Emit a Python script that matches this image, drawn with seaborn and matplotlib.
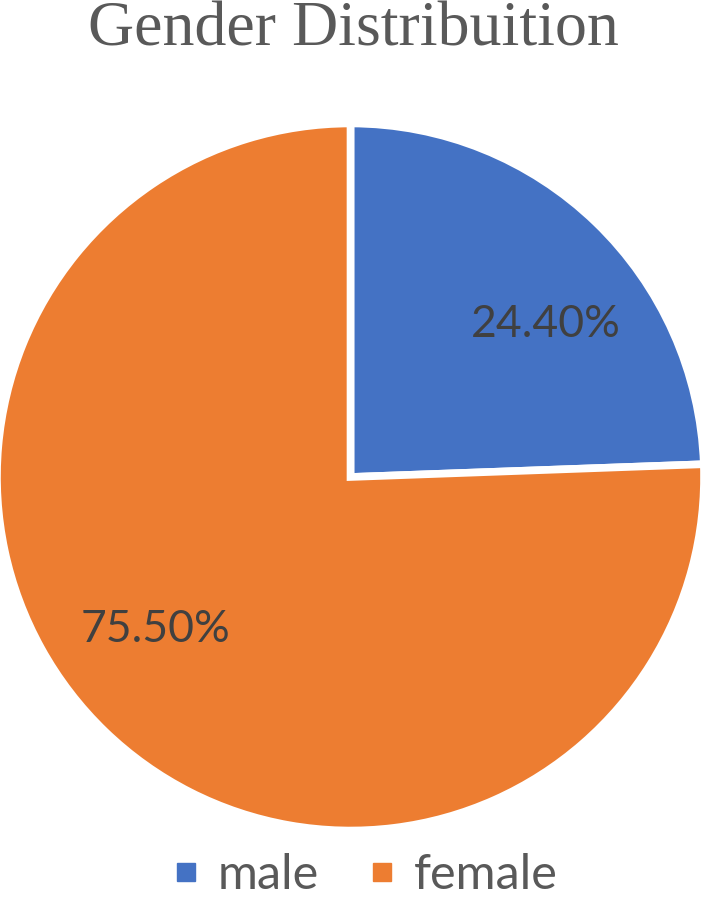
import numpy as np
import matplotlib.pyplot as plt
from matplotlib.lines import Line2D
import seaborn as sns

labels = ["male", "female"]
values = [24.40, 75.50]
colors = ["#4472C4", "#ED7D31"]

sns.set_theme(style="white")
plt.rcParams['font.family'] = ['Lato', 'DejaVu Sans']

fig = plt.figure(figsize=(7.01, 9.05), dpi=100)
ax = fig.add_axes([0.0, 78 / 905, 1.0, 700 / 905])

total = sum(values)
wedges, texts, autotexts = ax.pie(
    values, colors=colors, startangle=90, counterclock=False,
    autopct=lambda p: f"{p * total / 100:.2f}%", pctdistance=0.70,
    wedgeprops=dict(edgecolor="white", linewidth=5.5),
    textprops=dict(fontsize=32, color="#404040"),
)
# nudge labels a little clockwise, like the original's best-fit placement
rot = np.deg2rad(-8)
for t in autotexts:
    x, y = t.get_position()
    t.set_position((x * np.cos(rot) - y * np.sin(rot),
                    x * np.sin(rot) + y * np.cos(rot)))

ax.set_xlim(-0.99, 0.99)
ax.set_ylim(-0.99, 0.99)
ax.set_aspect("equal")

fig.text(0.504, 0.998, "Gender Distribuition", ha="center", va="top",
         fontsize=46, color="#595959", family="Liberation Serif")

handles = [Line2D([], [], marker="s", linestyle="none", markersize=13,
                  markerfacecolor=c, markeredgecolor=c) for c in colors]
fig.legend(handles, labels, loc="lower center", bbox_to_anchor=(0.515, -0.04),
           ncol=2, frameon=False, fontsize=35, labelcolor="#595959",
           handletextpad=0.2, columnspacing=0.85, handlelength=0.9)

fig.savefig("out.png", dpi=100)
